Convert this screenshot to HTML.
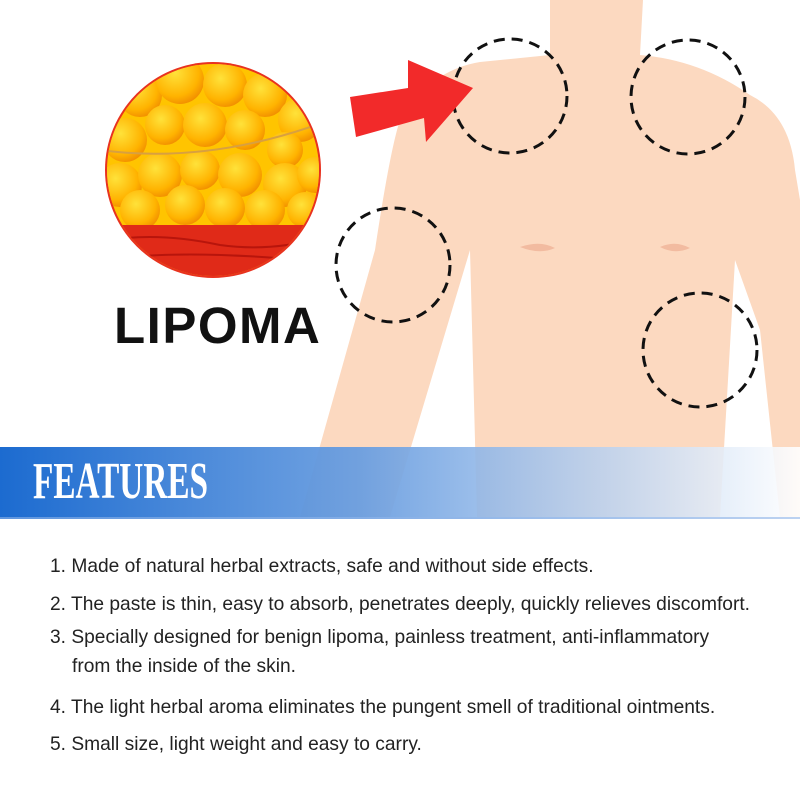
<!DOCTYPE html>
<html><head><style>
body{margin:0;width:800px;height:800px;overflow:hidden;background:#fff;font-family:"Liberation Sans",sans-serif;position:relative}
.t{position:absolute;left:50px;font-size:19.2px;color:#222;white-space:nowrap}
</style></head><body>
<svg width="800" height="800" style="position:absolute;left:0;top:0">
<defs>
<clipPath id="cc"><circle cx="213" cy="170" r="106"/></clipPath>
<radialGradient id="ball" cx="0.4" cy="0.35" r="0.7"><stop offset="0" stop-color="#ffe23a"/><stop offset="0.7" stop-color="#ffb300"/><stop offset="1" stop-color="#f08a00"/></radialGradient>
<linearGradient id="ban" x1="0" x2="1"><stop offset="0" stop-color="#1c6bd0"/><stop offset="0.45" stop-color="#6a9ee0" stop-opacity="0.95"/><stop offset="0.75" stop-color="#b7d0f0" stop-opacity="0.85"/><stop offset="1" stop-color="#ffffff" stop-opacity="0.9"/></linearGradient>
</defs>
<g fill="#fcd9c0">
<path d="M550 0 L643 0 L640 55 Q700 60 750 95 Q790 115 795 170 L800 200 L800 517 L780 517 L760 330 L735 260 L720 517 L477 517 L470 250 L390 517 L300 517 L375 250 Q390 150 400 120 Q430 70 480 62 L550 55 Z"/>
</g>
<path d="M520 247 Q540 240 555 248 Q540 255 520 247Z M660 247 Q675 240 690 248 Q675 255 660 247Z" fill="#f2bba0"/>
<g fill="none" stroke="#111" stroke-width="3" stroke-dasharray="11 7">
<circle cx="510" cy="96" r="57"/><circle cx="688" cy="97" r="57"/><circle cx="393" cy="265" r="57"/><circle cx="700" cy="350" r="57"/>
</g>
<path d="M350 97 L408 88 L408 60 L473 88 L426 142 L424 118 L356 137 Z" fill="#f22a2a"/>
<circle cx="213" cy="170" r="108" fill="#e8321f"/>
<g clip-path="url(#cc)">
<rect x="100" y="60" width="230" height="230" fill="#ffc400"/>
<g fill="url(#ball)">
<circle cx="140" cy="95" r="22"/><circle cx="180" cy="80" r="24"/><circle cx="225" cy="85" r="22"/><circle cx="265" cy="95" r="22"/><circle cx="300" cy="120" r="22"/>
<circle cx="125" cy="140" r="22"/><circle cx="165" cy="125" r="20"/><circle cx="205" cy="125" r="22"/><circle cx="245" cy="130" r="20"/><circle cx="285" cy="150" r="18"/>
<circle cx="120" cy="185" r="22"/><circle cx="160" cy="175" r="22"/><circle cx="200" cy="170" r="20"/><circle cx="240" cy="175" r="22"/><circle cx="285" cy="185" r="22"/><circle cx="315" cy="175" r="18"/>
<circle cx="140" cy="210" r="20"/><circle cx="185" cy="205" r="20"/><circle cx="225" cy="208" r="20"/><circle cx="265" cy="210" r="20"/><circle cx="305" cy="210" r="18"/>
</g>
<path d="M100 150 Q210 165 330 120" fill="none" stroke="#d8a040" stroke-width="2"/>
<rect x="100" y="225" width="230" height="70" fill="#e02a18"/>
<path d="M110 240 Q160 232 220 245 Q270 252 320 238 M120 258 Q190 250 300 260" stroke="#b8150c" stroke-width="2" fill="none"/>
</g>
<rect x="0" y="447" width="800" height="72" fill="url(#ban)"/>
<rect x="0" y="517" width="800" height="2" fill="#8fb4e8" opacity="0.6"/>
</svg>
<div style="position:absolute;left:114px;top:296px;font-size:51px;font-weight:bold;color:#111;letter-spacing:1.5px">LIPOMA</div>
<div style="position:absolute;left:33px;top:452px;font-family:'Liberation Serif',serif;font-weight:bold;font-size:52px;color:#fff;transform:scaleX(0.64);transform-origin:left top;white-space:nowrap">FEATURES</div>
<div class="t" style="top:556px">1. Made of natural herbal extracts, safe and without side effects.</div>
<div class="t" style="top:594px">2. The paste is thin, easy to absorb, penetrates deeply, quickly relieves discomfort.</div>
<div class="t" style="top:627px">3. Specially designed for benign lipoma, painless treatment, anti-inflammatory</div>
<div class="t" style="top:656px;left:72px">from the inside of the skin.</div>
<div class="t" style="top:697px">4. The light herbal aroma eliminates the pungent smell of traditional ointments.</div>
<div class="t" style="top:734px">5. Small size, light weight and easy to carry.</div>
</body></html>
